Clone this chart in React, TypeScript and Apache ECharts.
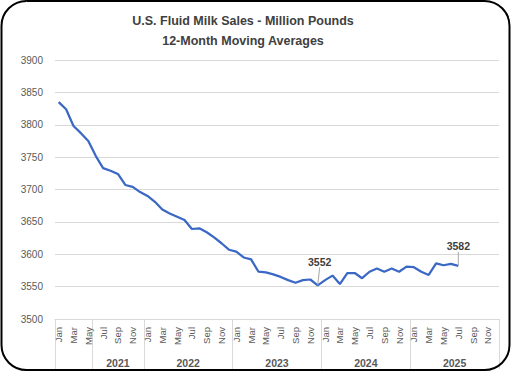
import React, { useEffect, useRef } from "react";
import * as echarts from "echarts";

const titleLines = ["U.S. Fluid Milk Sales - Million Pounds", "12-Month Moving Averages"];
const monthNames = ["Jan", "Feb", "Mar", "Apr", "May", "Jun", "Jul", "Aug", "Sep", "Oct", "Nov", "Dec"];
const years = [2021, 2022, 2023, 2024, 2025];
// Group labels of the outer category level and how many months each spans
const groupLabels = ["", "2021", "2022", "2023", "2024", "2025"];
const groupSizes = [5, 7, 12, 12, 12, 12];
// 12-month moving averages, Jan 2021 .. Jul 2025
const sales2021 = [3835, 3824, 3798, 3787, 3775, 3752, 3733, 3729, 3724, 3707, 3704, 3696];
const sales2022 = [3690, 3681, 3669, 3663, 3658, 3653, 3639, 3640, 3634, 3626, 3617, 3607];
const sales2023 = [3604, 3595, 3592, 3573, 3572, 3569, 3565, 3560, 3556, 3560, 3561, 3552];
const sales2024 = [3560, 3567, 3554, 3571, 3571, 3563, 3573, 3578, 3573, 3578, 3573, 3581];
const sales2025 = [3580, 3573, 3568, 3586, 3583, 3585, 3582];
const labeledPoints = ["Dec 2023", "Jul 2025"];
const yMin = 3500;
const yMax = 3900;
const yStep = 50;

const categories: string[] = [];
years.forEach((y) => monthNames.forEach((m) => categories.push(`${m} ${y}`)));
const values = [...sales2021, ...sales2022, ...sales2023, ...sales2024, ...sales2025];

const boundaries: number[] = [0];
groupSizes.forEach((s) => boundaries.push(boundaries[boundaries.length - 1] + s));
const groupCenters = groupSizes.map((s, i) => boundaries[i] + s / 2);

const labelOffsets: Record<string, [number, number]> = {
  "Dec 2023": [2, -13],
  "Jul 2025": [0, -9],
};

export default function App() {
  const ref = useRef<HTMLDivElement>(null);
  useEffect(() => {
    document.body.style.margin = "0";
    if (!ref.current) return;
    const chart = echarts.init(ref.current, undefined, { renderer: "svg" });
    const font = "'Liberation Sans', Arial, sans-serif";
    const data = values.map((v, i) =>
      labeledPoints.includes(categories[i])
        ? {
            value: v,
            symbolSize: 0.01,
            label: {
              show: true,
              position: "top",
              fontSize: 10.5,
              fontWeight: "bold",
              color: "#404040",
              fontFamily: font,
            },
            labelLine: { show: true, lineStyle: { color: "#a6a6a6", width: 1 } },
          }
        : { value: v, symbol: "none" }
    );
    chart.setOption({
      animation: false,
      backgroundColor: "#ffffff",
      title: {
        text: titleLines.join("\n"),
        left: 243,
        top: 11,
        textAlign: "center",
        padding: 0,
        textStyle: {
          fontSize: 12.5,
          fontWeight: "bold",
          color: "#404040",
          lineHeight: 20,
          fontFamily: font,
        },
      },
      grid: { left: 55, right: 13, top: 60, bottom: 53, containLabel: false },
      xAxis: [
        {
          type: "category",
          data: categories,
          boundaryGap: true,
          axisLine: { show: true, lineStyle: { color: "#d9d9d9", width: 1 } },
          axisTick: { show: false },
          axisLabel: {
            interval: 1,
            rotate: 90,
            margin: 8,
            fontSize: 9.5,
            color: "#595959",
            fontFamily: font,
            formatter: (v: string) => v.split(" ")[0],
          },
          splitLine: { show: false },
        },
        {
          type: "value",
          min: 0,
          max: boundaries[boundaries.length - 1],
          position: "bottom",
          axisLine: { show: false },
          splitLine: { show: false },
          axisTick: {
            show: true,
            inside: false,
            length: 50,
            customValues: boundaries,
            lineStyle: { color: "#d9d9d9", width: 1 },
          },
          axisLabel: {
            customValues: groupCenters,
            margin: 38,
            fontSize: 10.5,
            fontWeight: "bold",
            color: "#595959",
            fontFamily: font,
            formatter: (v: number) => {
              const idx = groupCenters.findIndex((c) => Math.abs(c - v) < 1e-6);
              return idx >= 0 ? groupLabels[idx] : "";
            },
          },
        },
      ],
      yAxis: {
        type: "value",
        min: yMin,
        max: yMax,
        interval: yStep,
        axisLine: { show: false },
        axisTick: { show: false },
        axisLabel: {
          fontSize: 10,
          color: "#595959",
          margin: 12,
          fontFamily: font,
          formatter: (v: number) => String(v),
        },
        splitLine: { lineStyle: { color: "#d9d9d9", width: 1 } },
      },
      series: [
        {
          type: "line",
          xAxisIndex: 0,
          data,
          showSymbol: true,
          showAllSymbol: true,
          symbol: "circle",
          itemStyle: { color: "#3a68c4" },
          lineStyle: { color: "#3a68c4", width: 2.25 },
          labelLayout: (params: any) => {
            const key = categories[params.dataIndex];
            const off = labelOffsets[key];
            return off ? { dx: off[0], dy: off[1] } : {};
          },
        },
      ],
      graphic: [
        {
          type: "rect",
          shape: { x: 1.5, y: 1, width: 508, height: 369, r: 25 },
          style: { fill: "none", stroke: "#000000", lineWidth: 2 },
          silent: true,
          z: 100,
        },
      ],
    });
    return () => chart.dispose();
  }, []);
  return <div ref={ref} style={{ width: 512, height: 372 }} />;
}
